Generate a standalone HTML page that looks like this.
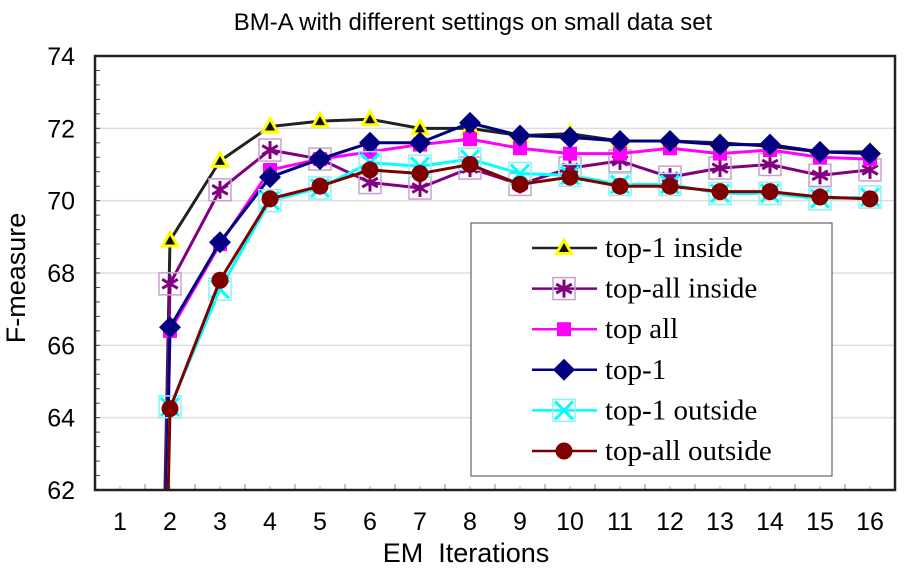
<!DOCTYPE html>
<html><head><meta charset="utf-8"><style>
html,body{margin:0;padding:0;background:#fff;width:909px;height:573px;overflow:hidden;}
svg{display:block;}
</style></head><body>
<svg id="chart" width="909" height="573" viewBox="0 0 909 573" xmlns="http://www.w3.org/2000/svg">
<defs><clipPath id="clip"><rect x="95" y="40" width="800" height="450"/></clipPath></defs>
<text x="473" y="30" text-anchor="middle" font-family="Liberation Sans, sans-serif" font-size="24">BM-A with different settings on small data set</text>
<g id="grid"></g>
<g id="yaxis"></g>
<g id="xaxis"></g>
<g id="series"></g>
<rect x="95" y="56" width="800" height="434" fill="none" stroke="#222" stroke-width="2.5"/>
<text transform="translate(25,278) rotate(-90)" text-anchor="middle" font-family="Liberation Sans, sans-serif" font-size="27">F-measure</text>
<text x="466" y="562" text-anchor="middle" font-family="Liberation Sans, sans-serif" font-size="27">EM&#160; Iterations</text>
<g id="legend"></g>
</svg>
<script>
const categories = [1,2,3,4,5,6,7,8,9,10,11,12,13,14,15,16];
const yTicks = [62,64,66,68,70,72,74];
const seriesNames = ["top-1 inside","top-all inside","top all","top-1","top-1 outside","top-all outside"];
const top1Inside   = [0,68.9,71.1,72.05,72.2,72.25,72.0,72.0,71.8,71.85,71.65,71.65,71.6,71.5,71.35,71.35];
const topAllInside = [0,67.7,70.3,71.4,71.15,70.5,70.35,70.9,70.45,70.9,71.1,70.65,70.9,71.0,70.7,70.85];
const topAll       = [0,66.4,68.8,70.85,71.15,71.35,71.55,71.7,71.45,71.3,71.3,71.45,71.3,71.4,71.2,71.15];
const top1         = [0,66.5,68.85,70.65,71.15,71.6,71.6,72.15,71.8,71.75,71.65,71.65,71.55,71.55,71.35,71.3];
const top1Outside  = [0,64.3,67.55,70.0,70.35,71.05,70.95,71.15,70.75,70.7,70.45,70.45,70.2,70.2,70.05,70.1];
const topAllOutside= [0,64.25,67.8,70.05,70.4,70.85,70.75,71.0,70.45,70.65,70.4,70.4,70.25,70.25,70.1,70.05];

const NS="http://www.w3.org/2000/svg";
const L=95,R=895,T=56,B=490,YMIN=62,YMAX=74;
const bw=(R-L)/categories.length;
function x(i){return L+bw*(i+0.5);}
function y(v){return B-(v-YMIN)/(YMAX-YMIN)*(B-T);}
function mk(tag,attrs,parent){const e=document.createElementNS(NS,tag);for(const k in attrs)e.setAttribute(k,attrs[k]);parent.appendChild(e);return e;}

const grid=document.getElementById('grid'),yaxis=document.getElementById('yaxis'),xaxis=document.getElementById('xaxis');
yTicks.forEach(t=>{
  if(t>YMIN&&t<YMAX){const g=mk('line',{x1:L,x2:R,y1:y(t),y2:y(t),stroke:'#ddd','stroke-width':1.5},grid);
  
  }
  const tx=mk('text',{x:75,y:y(t)+9,'text-anchor':'end','font-family':'Liberation Sans, sans-serif','font-size':25},yaxis);
  tx.textContent=t;
  
  
});
for(let v=YMIN;v<=YMAX+0.001;v+=0.4){mk('line',{x1:L,x2:L+5,y1:y(v),y2:y(v),stroke:'#444','stroke-width':1},yaxis);}
categories.forEach((c,i)=>{
  mk('line',{x1:L+bw*i,x2:L+bw*i,y1:B,y2:B-6,stroke:'#888','stroke-width':1},xaxis);
  mk('line',{x1:x(i),x2:x(i),y1:B,y2:B-4,stroke:'#aaa','stroke-width':1},xaxis);
  const tx=mk('text',{x:x(i),y:B+40,'text-anchor':'middle','font-family':'Liberation Sans, sans-serif','font-size':25},xaxis);
  tx.textContent=c;
  
  
});

const styles=[
 {data:top1Inside,color:'#222',m:'tri'},
 {data:topAllInside,color:'#800080',m:'star'},
 {data:topAll,color:'#ff00ff',m:'sq'},
 {data:top1,color:'#000080',m:'dia'},
 {data:top1Outside,color:'#00ffff',m:'x'},
 {data:topAllOutside,color:'#800000',m:'circ'}
];
function marker(type,cx,cy,color,g){
  if(type==='tri'){mk('polygon',{points:`${cx},${cy-11} ${cx-10},${cy+7} ${cx+10},${cy+7}`,fill:'#ffff00'},g);
    mk('polygon',{points:`${cx},${cy-5} ${cx-5},${cy+4} ${cx+5},${cy+4}`,fill:'#111'},g);}
  else if(type==='star'){mk('rect',{x:cx-11,y:cy-11,width:22,height:22,fill:'none',stroke:'#c9a0d0','stroke-width':1.5},g);
    [0,60,120].forEach(a=>{const r=a*Math.PI/180;mk('line',{x1:cx-9*Math.sin(r),y1:cy-9*Math.cos(r),x2:cx+9*Math.sin(r),y2:cy+9*Math.cos(r),stroke:color,'stroke-width':3},g);});}
  else if(type==='sq'){mk('rect',{x:cx-7,y:cy-7,width:14,height:14,fill:color},g);}
  else if(type==='dia'){mk('polygon',{points:`${cx},${cy-11} ${cx+11},${cy} ${cx},${cy+11} ${cx-11},${cy}`,fill:color},g);}
  else if(type==='x'){mk('rect',{x:cx-11,y:cy-11,width:22,height:22,fill:'none',stroke:'#90f0f0','stroke-width':1.5},g);
    mk('line',{x1:cx-9,y1:cy-9,x2:cx+9,y2:cy+9,stroke:color,'stroke-width':3},g);mk('line',{x1:cx+9,y1:cy-9,x2:cx-9,y2:cy+9,stroke:color,'stroke-width':3},g);}
  else {mk('circle',{cx:cx,cy:cy,r:8.5,fill:color},g);}
}
const sg=document.getElementById('series');
styles.forEach((s,si)=>{
  const g=mk('g',{},sg);
  
  
  const pts=s.data.map((v,i)=>x(i)+','+y(v)).join(' ');
  mk('polyline',{points:pts,fill:'none',stroke:s.color,'stroke-width':3,'clip-path':'url(#clip)'},g);
  s.data.forEach((v,i)=>{if(v>=YMIN&&v<=YMAX)marker(s.m,x(i),y(v),s.color,g);});
});

const lg=document.getElementById('legend');
const box=mk('rect',{x:471,y:223,width:361,height:253,fill:'#fff',stroke:'#666','stroke-width':1.2},lg);


styles.forEach((s,i)=>{
  const cy=248+i*40.6;
  const e=mk('g',{},lg);
  
  
  mk('line',{x1:532,x2:597,y1:cy,y2:cy,stroke:s.color,'stroke-width':2.5},e);
  marker(s.m,564,cy,s.color,e);
  const t=mk('text',{x:605,y:cy+9,'font-family':'Liberation Serif, serif','font-size':29},e);
  t.textContent=seriesNames[i];
});
</script>
</body></html>
